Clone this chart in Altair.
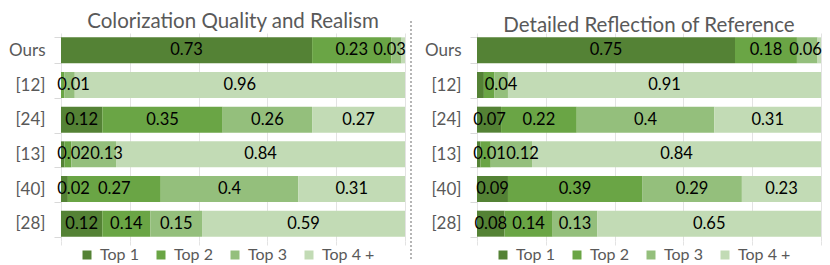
import altair as alt
import pandas as pd

methods = ["Ours", "[12]", "[24]", "[13]", "[40]", "[28]"]
ranks = ["Top 1", "Top 2", "Top 3", "Top 4 +"]
colors = ["#548235", "#6AA545", "#94BF7C", "#C2DBB5"]

titles = ["Colorization Quality and Realism", "Detailed Reflection of Reference"]

quality_top1 = [0.73, 0.00, 0.12, 0.01, 0.02, 0.12]
quality_top2 = [0.23, 0.01, 0.35, 0.02, 0.27, 0.14]
quality_top3 = [0.03, 0.03, 0.26, 0.13, 0.40, 0.15]
quality_top4 = [0.01, 0.96, 0.27, 0.84, 0.31, 0.59]
quality_shown = [[1, 1, 1, 0], [0, 1, 0, 1], [1, 1, 1, 1], [0, 1, 1, 1], [1, 1, 1, 1], [1, 1, 1, 1]]

reference_top1 = [0.75, 0.02, 0.07, 0.01, 0.09, 0.08]
reference_top2 = [0.18, 0.03, 0.22, 0.03, 0.39, 0.14]
reference_top3 = [0.06, 0.04, 0.40, 0.12, 0.29, 0.13]
reference_top4 = [0.01, 0.91, 0.31, 0.84, 0.23, 0.65]
reference_shown = [[1, 1, 1, 0], [0, 0, 1, 1], [1, 1, 1, 1], [1, 0, 1, 1], [1, 1, 1, 1], [1, 1, 1, 1]]

grid_ticks = [0.0, 0.1, 0.2, 0.3, 0.4, 0.5, 0.6, 0.7, 0.8, 0.9, 1.0]

FONT = "Lato"
PLOT_W = 344
PLOT_H = 208
FS = 16.5


def text_w(s):
    return sum(0.58 * FS if ch.isdigit() else 0.26 * FS for ch in s)


def build(cols, shown):
    rows = []
    for i, m in enumerate(methods):
        vals = [c[i] for c in cols]
        start = 0.0
        prev_end = -1e9
        for j, r in enumerate(ranks):
            v = vals[j]
            end = start + v
            lab = f"{v:g}" if shown[i][j] else ""
            lx = None
            if lab:
                w = text_w(lab)
                c = (start + end) / 2 * PLOT_W
                s = max(c - w / 2, prev_end, -4)
                s = min(s, PLOT_W - w + 1)
                prev_end = s + w
                lx = (s + w / 2) / PLOT_W
            rows.append(dict(method=m, rank=r, order=j, start=start, end=end,
                             label=lab, lx=lx))
            start = end
    return pd.DataFrame(rows)


def panel(df, title, with_sep):
    y = alt.Y("method:N", sort=methods,
              scale=alt.Scale(paddingInner=0.25, paddingOuter=0.125),
              axis=alt.Axis(title=None, domain=False, ticks=True, tickBand="extent",
                            tickSize=7, tickColor="#d9d9d9", labelFont=FONT,
                            labelFontSize=17, labelColor="#595959", labelPadding=9))
    bars = alt.Chart(df).mark_bar(strokeWidth=0).encode(
        x=alt.X("start:Q", scale=alt.Scale(domain=[0, 1], nice=False, zero=True),
                axis=alt.Axis(values=grid_ticks, grid=True, gridColor="#e3e3e3",
                              labels=False, domain=False, ticks=True, tickSize=4,
                              tickColor="#e3e3e3", title=None)),
        x2="end:Q",
        y=y,
        color=alt.Color("rank:N", sort=ranks,
                        scale=alt.Scale(domain=ranks, range=colors),
                        legend=alt.Legend(orient="none", legendX=18, legendY=PLOT_H + 6,
                                          direction="horizontal", title=None,
                                          symbolType="square", symbolSize=81,
                                          symbolStrokeWidth=0, labelFont=FONT,
                                          labelFontSize=16, labelColor="#595959",
                                          columnPadding=14, labelOffset=5)),
        order="order:Q",
    )
    text = alt.Chart(df).transform_filter("datum.label != ''").mark_text(
        font=FONT, fontSize=FS, color="#000000", align="center", baseline="middle"
    ).encode(
        x=alt.X("lx:Q"),
        y=alt.Y("method:N", sort=methods),
        text="label:N",
    )
    layers = [bars, text]
    if with_sep:
        sep = alt.Chart(df).mark_rule(strokeDash=[2, 2], color="#b5b5b5", strokeWidth=1).encode(
            x=alt.value(PLOT_W + 6), y=alt.value(-12), y2=alt.value(PLOT_H + 19)
        )
        layers.append(sep)
    return alt.layer(*layers).properties(
        width=PLOT_W, height=PLOT_H,
        title=alt.TitleParams(title, font=FONT, fontSize=20.5, fontWeight="normal",
                              color="#595959", anchor="middle", frame="group", offset=-12),
    )


left_df = build([quality_top1, quality_top2, quality_top3, quality_top4], quality_shown)
right_df = build([reference_top1, reference_top2, reference_top3, reference_top4], reference_shown)

chart = alt.hconcat(
    panel(left_df, titles[0], True),
    panel(right_df, titles[1], False),
    spacing=72, bounds="flush",
).resolve_legend(color="independent").properties(
    padding={"left": 0, "top": 4, "right": 0, "bottom": 0}
).configure_view(stroke=None)

chart.save("out.html", embed_options={"renderer": "svg", "actions": False})
